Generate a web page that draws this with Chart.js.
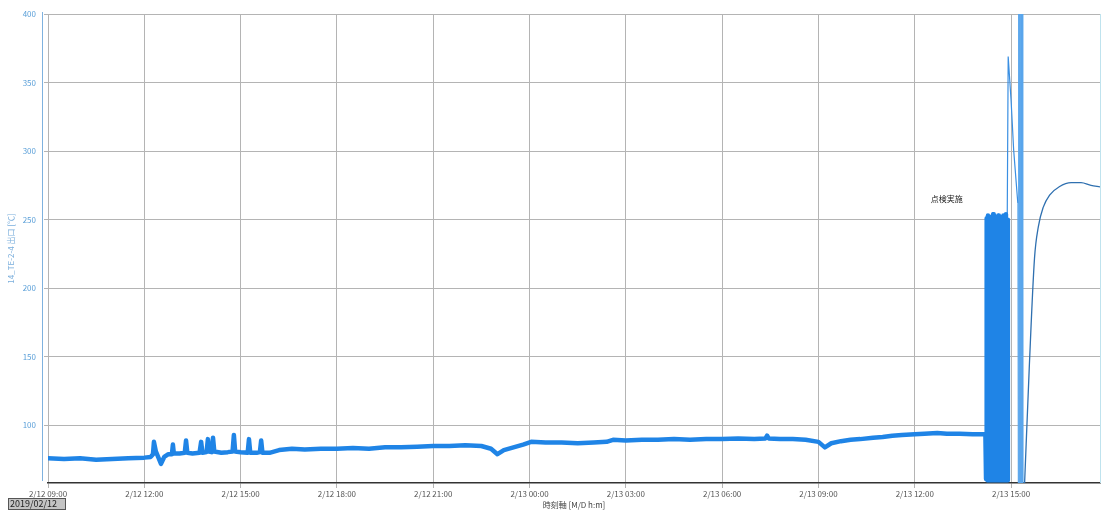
<!DOCTYPE html>
<html>
<head>
<meta charset="utf-8">
<script src="https://cdn.jsdelivr.net/npm/chart.js@4/dist/chart.umd.min.js"></script>
<style>
  html, body { margin: 0; padding: 0; background: #fff; }
  #wrap { width: 1109px; height: 513px; position: relative; }
</style>
</head>
<body>
<div id="wrap"><canvas id="c" width="1109" height="513"></canvas></div>
<script>
// Time axis: hours elapsed since 2/12 09:00
const xTickHours = [0, 3, 6, 9, 12, 15, 18, 21, 24, 27, 30];
const xTickLabels = ['2/12 09:00', '2/12 12:00', '2/12 15:00', '2/12 18:00', '2/12 21:00',
  '2/13 00:00', '2/13 03:00', '2/13 06:00', '2/13 09:00', '2/13 12:00', '2/13 15:00'];
const yTicks = [100, 150, 200, 250, 300, 350, 400];

const yTitle = '14_TE-2-4 出口 [℃]';
const xTitle = '時刻軸 [M/D h:m]';
const dateStamp = '2019/02/12';
const noteText = '点検実施';
const noteAt = { t: 28.0, v: 265 };

// Steady operation
const mainTimes = [0, 0.5, 1, 1.5, 2, 2.5, 3.0, 3.2, 3.27, 3.3, 3.36, 3.45, 3.52, 3.62, 3.75,
  3.86, 3.89, 3.92, 4.1, 4.26, 4.3, 4.34, 4.5, 4.72, 4.77, 4.81, 4.94, 4.98, 5.02, 5.1, 5.14, 5.18,
  5.4, 5.6, 5.75, 5.79, 5.83, 6.0, 6.22, 6.26, 6.3, 6.5, 6.6, 6.64, 6.68, 6.9,
  7.2, 7.6, 8, 8.5, 9, 9.5, 10, 10.5, 11, 11.5, 12, 12.5, 13, 13.5, 13.8, 14.0,
  14.2, 14.5, 14.8, 15.05, 15.5, 16, 16.5, 17, 17.4, 17.6, 18, 18.5, 19, 19.5, 20, 20.5, 21, 21.5, 22,
  22.35, 22.4, 22.45, 22.8, 23.2, 23.6, 24.0, 24.2, 24.4, 24.7, 25, 25.3, 25.7, 26, 26.3, 26.6, 27, 27.3,
  27.7, 28, 28.4, 28.8, 29.2];
const mainValues = [76, 75.5, 76, 75, 75.5, 76, 76.5, 77, 79, 88, 81, 76, 72, 77, 79,
  79, 86, 79.5, 79.5, 80, 89, 80, 79.5, 80, 88, 80, 80.5, 90, 81, 80.5, 91, 81,
  80, 80.5, 81, 93, 81, 80.5, 80, 90, 80, 80, 80.5, 89, 80, 80,
  82, 83, 82.5, 83, 83, 83.5, 83, 84, 84, 84.5, 85, 85, 85.5, 85, 83, 79,
  82, 84, 86, 88, 87.5, 87.5, 87, 87.5, 88, 89.5, 89, 89.5, 89.5, 90, 89.5, 90, 90, 90.5, 90,
  90.5, 92.5, 90.5, 90, 90, 89.5, 88, 84, 87, 88.5, 89.5, 90, 91, 91.5, 92.5, 93, 93.5, 94,
  94.5, 94, 94, 93.5, 93.5];

// On/off cycling during the inspection (sampled every 0.02 h)
const burstStart = 29.22;
const burstStep = 0.02;
const burstValues = [61, 251, 60, 253, 61, 248, 60, 252, 61, 250, 60, 254, 61, 249, 60, 252, 61, 251,
  60, 253, 61, 250, 60, 252, 61, 249, 60, 253, 61, 251, 60, 254, 61, 250, 60];

// Overshoot after the cycling
const spikeTimes = [29.88, 29.91, 30.0, 30.08, 30.21];
const spikeValues = [250, 369, 337, 301, 262];

// Full-range swings (sampled every 0.014 h)
const bandStart = 30.21;
const bandStep = 0.014;
const bandValues = [262, 58, 405, 58, 405, 58, 405, 58, 405, 58, 405, 58];

// Recovery to the new steady level
const recoveryTimes = [30.42, 30.57, 30.73, 30.85, 31.0, 31.2, 31.5, 31.87, 32.18, 32.49, 32.77];
const recoveryValues = [57, 144, 222, 245, 259, 268, 274, 277, 277, 275, 274];

const pts = (ts, vs) => vs.map((v, i) => ({ x: ts[i], y: v }));
const stepPts = (t0, dt, vs) => vs.map((v, i) => ({ x: t0 + i * dt, y: v }));

const FONT = "'Noto Sans CJK JP', 'DejaVu Sans', sans-serif";

const extras = {
  id: 'extras',
  afterDraw(chart) {
    const { ctx, chartArea: a, scales } = chart;
    ctx.save();
    // left axis rule
    ctx.strokeStyle = '#7fb2df';
    ctx.lineWidth = 1;
    ctx.beginPath();
    ctx.moveTo(a.left - 5.5, a.top - 2);
    ctx.lineTo(a.left - 5.5, a.bottom - 2);
    ctx.stroke();
    // right frame
    ctx.strokeStyle = '#bfe3ee';
    ctx.beginPath();
    ctx.moveTo(a.right + 0.5, a.top);
    ctx.lineTo(a.right + 0.5, a.bottom);
    ctx.stroke();
    // annotation
    ctx.fillStyle = '#222';
    ctx.font = '8px ' + FONT;
    ctx.textAlign = 'center';
    ctx.textBaseline = 'middle';
    ctx.fillText(noteText, scales.x.getPixelForValue(noteAt.t), scales.y.getPixelForValue(noteAt.v));
    // date stamp box
    ctx.fillStyle = '#c4c4c4';
    ctx.fillRect(8, 498, 57, 11);
    ctx.strokeStyle = '#555';
    ctx.strokeRect(8.5, 498.5, 57, 11);
    ctx.fillStyle = '#222';
    ctx.font = '9px ' + FONT;
    ctx.textAlign = 'left';
    ctx.fillText(dateStamp, 10, 504);
    ctx.restore();
  }
};

new Chart(document.getElementById('c'), {
  type: 'line',
  data: {
    datasets: [
      {
        data: pts(mainTimes, mainValues).concat(stepPts(burstStart, burstStep, burstValues)),
        borderColor: '#1f84e6', borderWidth: 4.5, pointRadius: 0, tension: 0,
        borderJoinStyle: 'round', borderCapStyle: 'round'
      },
      {
        data: pts(spikeTimes, spikeValues),
        borderColor: '#3a8fe2', borderWidth: 1.2, pointRadius: 0, tension: 0
      },
      {
        data: stepPts(bandStart, bandStep, bandValues),
        borderColor: '#5aa6ec', borderWidth: 1, pointRadius: 0, tension: 0
      },
      {
        data: pts(recoveryTimes, recoveryValues),
        borderColor: '#2f70b0', borderWidth: 1.3, pointRadius: 0,
        cubicInterpolationMode: 'monotone'
      }
    ]
  },
  options: {
    responsive: false,
    animation: false,
    layout: { padding: { left: 0, right: 9, top: 14, bottom: 0 } },
    plugins: { legend: { display: false }, tooltip: { enabled: false } },
    scales: {
      x: {
        type: 'linear',
        min: 0, max: 32.77,
        afterBuildTicks: s => { s.ticks = xTickHours.map(v => ({ value: v })); },
        afterFit: s => { s.height = 30; },
        ticks: {
          autoSkip: false, maxRotation: 0, padding: 1,
          color: '#555', font: { family: FONT, size: 8 },
          callback: (v) => xTickLabels[xTickHours.indexOf(v)]
        },
        grid: { color: '#b4b4b4', lineWidth: 1, tickLength: 5 },
        border: { color: '#333', width: 1.5 },
        title: {
          display: true, text: xTitle, color: '#444',
          font: { family: FONT, size: 8 }, padding: { top: 0, bottom: 3 }
        }
      },
      y: {
        type: 'linear',
        min: 58, max: 400,
        afterBuildTicks: s => { s.ticks = yTicks.map(v => ({ value: v })); },
        afterFit: s => { s.width = 48; },
        ticks: { color: '#5a9fd8', font: { family: FONT, size: 8 }, padding: 8 },
        grid: { color: '#b4b4b4', lineWidth: 1, tickLength: 4 },
        border: { display: false },
        title: {
          display: true, text: yTitle, color: '#7aaedc',
          font: { family: FONT, size: 8 }, padding: { top: 6, bottom: 0 }
        }
      }
    }
  },
  plugins: [extras]
});
</script>
</body>
</html>
